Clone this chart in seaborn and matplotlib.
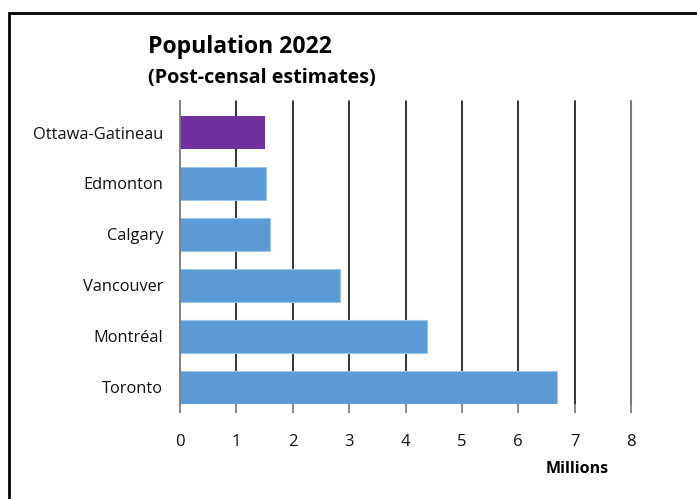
import matplotlib
matplotlib.use("Agg")
import matplotlib.pyplot as plt
import matplotlib.patches as mpatches
import seaborn as sns
import pandas as pd

# Census metropolitan areas and their 2022 population (millions)
cities = ["Ottawa-Gatineau", "Edmonton", "Calgary", "Vancouver", "Montréal", "Toronto"]
population = [1.50, 1.52, 1.60, 2.84, 4.38, 6.68]
highlight = ["Ottawa-Gatineau"]
x_ticks = [0, 1, 2, 3, 4, 5, 6, 7, 8]

BLUE = "#5B9BD5"
PURPLE = "#7030A0"

sns.set_theme(style="white")
plt.rcParams["font.family"] = ["Open Sans", "DejaVu Sans"]

df = pd.DataFrame({"city": cities, "pop": population})
df["group"] = ["hl" if c in highlight else "base" for c in cities]

fig = plt.figure(figsize=(6.97, 4.99), dpi=100)
W, H = 697, 499
ax = fig.add_axes([180 / W, 1 - 404 / H, (631 - 180) / W, (404 - 101) / H])

sns.barplot(data=df, x="pop", y="city", hue="group", order=cities,
            palette={"base": BLUE, "hl": PURPLE}, dodge=False, width=0.65,
            orient="h", legend=False, ax=ax, saturation=1)

for bar, grp in zip(ax.patches, df["group"]):
    if grp == "base":
        bar.set_edgecolor("#9DC3E6")
        bar.set_linewidth(0.8)
    else:
        bar.set_edgecolor(PURPLE)
        bar.set_linewidth(0)

ax.set_xlim(0, 8)
ax.set_ylim(5.33, -0.62)
ax.set_xticks(x_ticks)
ax.set_xticklabels([str(t) for t in x_ticks], fontsize=12, color="#111111")
ax.tick_params(axis="x", direction="out", length=6.5, width=1.2, color="#777777",
               bottom=True, pad=15)
ax.tick_params(axis="y", length=0, pad=12, labelsize=11.8, labelcolor="#111111")
ax.set_xlabel("")
ax.set_ylabel("")

# vertical gridlines
for t in x_ticks[1:]:
    ax.axvline(t, color="#7a7a7a" if t == 8 else "#111111",
               lw=1.5 if t == 8 else 1.2, zorder=0, clip_on=False)

for side in ["top", "right", "bottom"]:
    ax.spines[side].set_visible(False)
ax.spines["left"].set_color("#777777")
ax.spines["left"].set_linewidth(1.3)

# titles
fig.text(148 / W, 1 - 47 / H, "Population 2022", fontsize=16.6, fontweight="bold",
         ha="left", va="center", color="black")
fig.text(148 / W, 1 - 78 / H, "(Post-censal estimates)", fontsize=14.2,
         fontweight="bold", ha="left", va="center", color="black")
fig.text(577 / W, 1 - 469 / H, "Millions", fontsize=11.5, fontweight="bold",
         ha="center", va="center", color="black")

# frame around the chart
frame = mpatches.Rectangle((9 / W, -0.2), 1.2, 1 - 13 / H + 0.2,
                           transform=fig.transFigure, fill=False,
                           edgecolor="black", linewidth=2, clip_on=False)
fig.patches.append(frame)

fig.savefig("out.png", dpi=100)
